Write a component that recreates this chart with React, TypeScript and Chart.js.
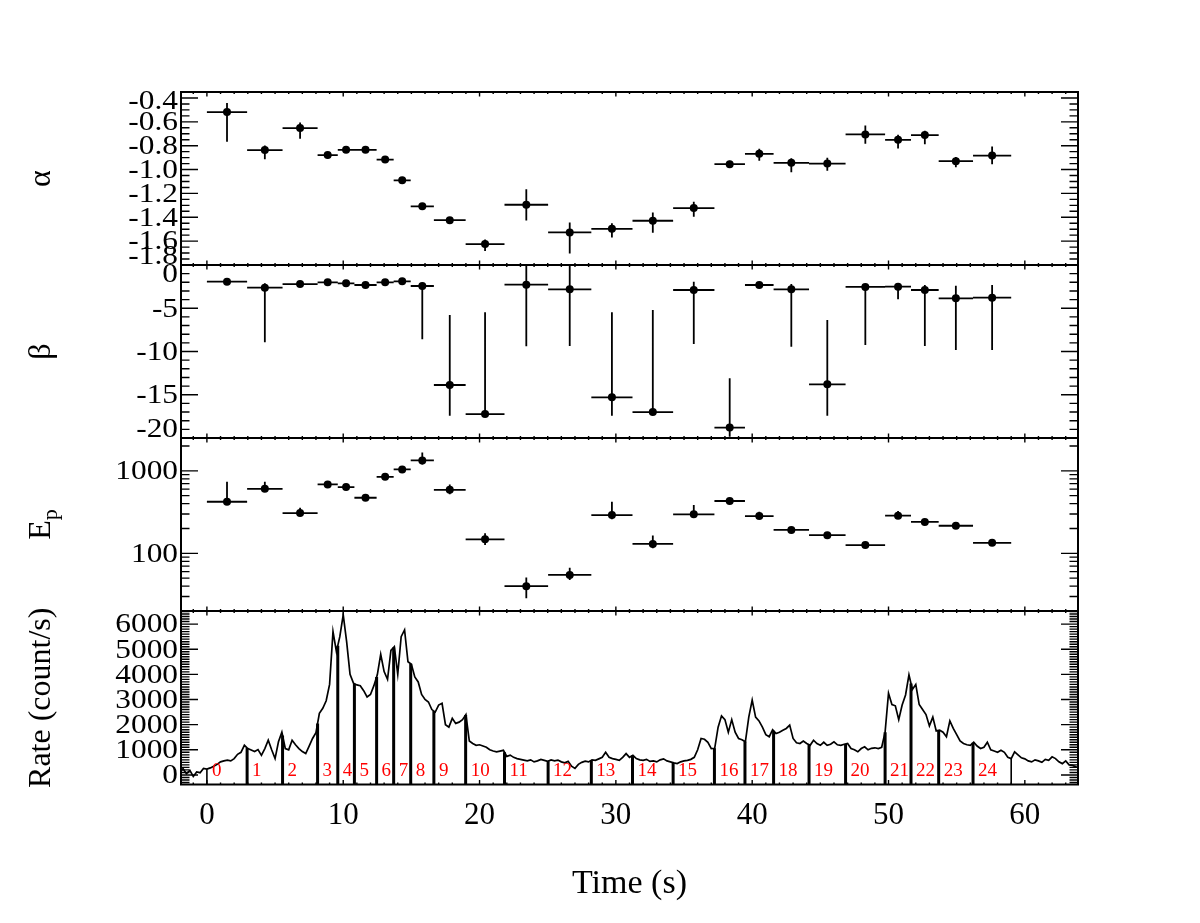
import { useEffect, useRef } from "react";
import { Chart, registerables } from "chart.js";

Chart.register(...registerables);

// bin edges (s) of the 25 time-resolved spectra
const binEdges = [
  0, 2.95, 5.55, 8.12, 9.6, 10.82, 12.45, 13.7, 14.95, 16.65, 18.98, 21.83, 25.03,
  28.2, 31.22, 34.2, 37.23, 39.47, 41.57, 44.17, 46.85, 49.75, 51.65, 53.68, 56.2, 59.0,
];
const binNames = [
  "0", "1", "2", "3", "4", "5", "6", "7", "8", "9", "10", "11", "12",
  "13", "14", "15", "16", "17", "18", "19", "20", "21", "22", "23", "24",
];

// low-energy index alpha
const alphaValues = [
  -0.518, -0.837, -0.652, -0.879, -0.835, -0.835, -0.916, -1.09, -1.308, -1.424, -1.625, -1.295, -1.527,
  -1.497, -1.429, -1.323, -0.955, -0.868, -0.944, -0.95, -0.706, -0.751, -0.711, -0.93, -0.883,
];
const alphaUpper = [
  -0.442, -0.799, -0.605, -0.857, -0.82, -0.82, -0.9, -1.075, -1.295, -1.412, -1.586, -1.165, -1.443,
  -1.451, -1.359, -1.27, -0.927, -0.826, -0.905, -0.902, -0.63, -0.709, -0.675, -0.894, -0.807,
];
const alphaLower = [
  -0.767, -0.913, -0.742, -0.908, -0.85, -0.85, -0.93, -1.105, -1.32, -1.436, -1.682, -1.426, -1.704,
  -1.569, -1.53, -1.396, -0.984, -0.927, -1.022, -1.009, -0.784, -0.824, -0.787, -0.98, -0.955,
];

// high-energy index beta
const betaValues = [
  -1.93, -2.62, -2.2, -2.0, -2.12, -2.31, -2.0, -1.89, -2.43, -13.87, -17.23, -2.27, -2.81,
  -15.3, -17.0, -2.89, -18.8, -2.31, -2.81, -13.8, -2.54, -2.5, -2.89, -3.85, -3.78,
];
const betaUpper = [
  -1.8, -2.12, -2.05, -1.85, -1.95, -2.15, -1.85, -1.75, -2.04, -5.78, -5.47, 0, 0,
  -5.47, -5.2, -1.93, -13.1, -2.15, -2.2, -6.36, -2.31, -2.2, -2.31, -2.39, -2.31,
];
const betaLower = [
  -2.05, -8.94, -2.35, -2.15, -2.3, -2.45, -2.15, -2.0, -8.59, -17.42, -17.23, -9.4, -9.36,
  -17.42, -17.0, -9.13, -19.85, -2.45, -9.44, -17.42, -9.25, -3.97, -9.36, -9.83, -9.83,
];

// peak energy Ep (keV)
const epValues = [
  422, 606, 308, 685, 635, 472, 846, 1040, 1336, 589, 148, 40, 54.8,
  291, 130, 297, 431, 283, 192, 166, 126, 286, 240, 216, 134,
];
const epUpper = [
  736, 736, 357, 750, 680, 500, 900, 1120, 1668, 685, 175, 51, 67,
  422, 164, 385, 450, 319, 200, 173, 131, 326, 250, 225, 139,
];
const epLower = [
  404, 557, 283, 635, 600, 450, 800, 980, 1195, 519, 126, 28.6, 47.6,
  258, 115, 270, 414, 265, 185, 160, 121, 265, 231, 208, 129,
];

// light curve, 0.25 s bins starting at -2 s
const rateStart = -2;
const rateStep = 0.25;
const rateValues = [
  100, 250, 50, 180, -60, 120, 90, 260,
  230, 280, 350, 420, 520, 560, 590, 560,
  650, 820, 900, 1180, 1050, 990, 930, 1010,
  780, 1050, 1380, 1000, 650, 1320, 1700, 1050,
  1000, 1380, 1200, 1050, 930, 850, 1150, 1450,
  1680, 2450, 2650, 2950, 3600, 5700, 4900, 5500,
  6370, 5300, 4000, 3650, 3580, 3550, 3350, 3100,
  3200, 3550, 3980, 4800, 4110, 3800, 4950, 5100,
  4000, 5500, 5770, 4500, 4400, 3900, 3700, 3200,
  3000, 2900, 2600, 2500, 2780, 2850, 2000, 1900,
  2250, 2050, 2100, 2200, 2400, 1350, 1250, 1180,
  1200, 1150, 1100, 1000, 950, 920, 950, 980,
  740, 790, 700, 650, 620, 590, 560, 600,
  520, 560, 620, 580, 540, 600, 560, 590,
  520, 480, 540, 350, 260, 420, 500, 550,
  520, 600, 580, 640, 700, 900, 700, 650,
  620, 580, 700, 850, 700, 780, 650, 600,
  580, 620, 540, 560, 520, 600, 640, 560,
  520, 480, 450, 520, 560, 580, 620, 700,
  1000, 1450, 1420, 1300, 1050, 1060, 1900, 2350,
  2200, 1700, 2200, 1700, 1450, 1400, 1320, 2300,
  2980, 2300, 2150, 1900, 1600, 1520, 1800, 1650,
  1700, 1780, 1850, 1980, 1450, 1280, 1250, 1350,
  1250, 1180, 1380, 1250, 1180, 1300, 1180, 1220,
  1320, 1200, 1180, 1220, 1250, 1050, 1000, 920,
  1050, 1120, 1000, 1060, 1080, 1050, 1100, 1700,
  3250, 2800, 2750, 2200, 2780, 3180, 3980, 3400,
  3600, 2800, 2600, 2400, 1950, 2300, 1750, 1780,
  1700, 1520, 2150, 1850, 1600, 1350, 1250, 1200,
  1180, 1300, 1150, 1050, 1100, 1300, 1000, 950,
  900, 980, 900, 700, 650, 920, 800, 680,
  640, 560, 520, 600, 560, 500, 620, 580,
  720, 650, 520, 450, 560, 400, 380, 320,
  300,
];

// tick labels
const timeTicks = [0, 10, 20, 30, 40, 50, 60];
const alphaTicks = [-1.8, -1.6, -1.4, -1.2, -1.0, -0.8, -0.6, -0.4];
const betaTicks = [-20, -15, -10, -5, 0];
const epTicks = [100, 1000];
const rateTicks = [0, 1000, 2000, 3000, 4000, 5000, 6000];

// axis ranges
const TIME_MIN = -1.9;
const TIME_MAX = 63.9;
const RATE_MIN = -380;

const FONT = "'Liberation Serif', 'Times New Roman', serif";

function steps(from: number, to: number, step: number) {
  const out: number[] = [];
  for (let i = Math.ceil(from / step - 1e-9); i <= Math.floor(to / step + 1e-9); i++) out.push(i * step);
  return out;
}

const timeMinor = steps(TIME_MIN, TIME_MAX, 1);
const epMinor = [30, 40, 50, 60, 70, 80, 90, 200, 300, 400, 500, 600, 700, 800, 900, 2000];

function rateAt(t: number) {
  const f = (t - rateStart) / rateStep;
  const i = Math.floor(f);
  const w = f - i;
  return rateValues[i] * (1 - w) + (rateValues[i + 1] ?? rateValues[i]) * w;
}

function errorBarSets(values: number[], lower: number[], upper: number[]) {
  const dots: any[] = [];
  const hLines: any[] = [];
  const vLines: any[] = [];
  values.forEach((v, i) => {
    const t0 = binEdges[i];
    const t1 = binEdges[i + 1];
    const tm = (t0 + t1) / 2;
    dots.push({ x: tm, y: v });
    hLines.push({ x: t0, y: v }, { x: t1, y: v }, { x: tm, y: null });
    vLines.push({ x: tm, y: lower[i] }, { x: tm, y: upper[i] }, { x: tm, y: null });
  });
  const line = { showLine: true, borderColor: "#000", borderWidth: 1.8, pointRadius: 0, spanGaps: false };
  return [
    { data: dots, showLine: false, pointRadius: 4, pointBackgroundColor: "#000", pointBorderWidth: 0 },
    { data: hLines, ...line },
    { data: vLines, ...line },
  ];
}

function rateSets() {
  const curve = rateValues.map((v, i) => ({ x: rateStart + i * rateStep, y: v }));
  const thick: any[] = [];
  const thin: any[] = [];
  binEdges.forEach((e, i) => {
    const target = i === 0 || i === binEdges.length - 1 ? thin : thick;
    target.push({ x: e, y: RATE_MIN }, { x: e, y: rateAt(e) }, { x: e, y: null });
  });
  const line = { showLine: true, borderColor: "#000", pointRadius: 0, spanGaps: false };
  return [
    { data: curve, ...line, borderWidth: 1.7 },
    { data: thick, ...line, borderWidth: 3 },
    { data: thin, ...line, borderWidth: 1.6 },
  ];
}

// IDL-like box: inward ticks on all sides, tick labels and titles
const panelFrame = {
  id: "panelFrame",
  afterDraw(chart: any, _args: any, o: any) {
    const { ctx, chartArea: a } = chart;
    const xs = chart.scales.x;
    const ys = chart.scales.y;
    ctx.save();
    ctx.strokeStyle = "#000";
    ctx.fillStyle = "#000";

    ctx.lineWidth = 1.4;
    ctx.beginPath();
    const xTick = (v: number, len: number) => {
      const px = xs.getPixelForValue(v);
      ctx.moveTo(px, a.top);
      ctx.lineTo(px, a.top + len);
      ctx.moveTo(px, a.bottom);
      ctx.lineTo(px, a.bottom - len);
    };
    const yTick = (v: number, len: number) => {
      const py = ys.getPixelForValue(v);
      ctx.moveTo(a.left, py);
      ctx.lineTo(a.left + len, py);
      ctx.moveTo(a.right, py);
      ctx.lineTo(a.right - len, py);
    };
    timeMinor.forEach((v) => xTick(v, 2));
    timeTicks.forEach((v) => xTick(v, 4.5));
    o.yMinor.forEach((v: number) => yTick(v, 8.5));
    o.yMajor.forEach((v: number) => yTick(v, 17));
    ctx.stroke();

    ctx.lineWidth = 2;
    ctx.strokeRect(a.left, a.top, a.right - a.left, a.bottom - a.top);

    // y tick labels (kept inside the panel height)
    ctx.font = `28px ${FONT}`;
    ctx.textAlign = "right";
    ctx.textBaseline = "middle";
    o.yMajor.forEach((v: number, i: number) => {
      const py = Math.min(Math.max(ys.getPixelForValue(v), a.top + 9), a.bottom - 9);
      ctx.save();
      ctx.translate(a.left - 3, py + 1);
      ctx.scale(1.12, 1);
      ctx.fillText(o.yLabels[i], 0, 0);
      ctx.restore();
    });

    // rotated y title, with optional subscript
    ctx.save();
    ctx.translate(42, (a.top + a.bottom) / 2);
    ctx.rotate(-Math.PI / 2);
    ctx.textAlign = "left";
    ctx.textBaseline = "middle";
    ctx.font = `32px ${FONT}`;
    const wMain = ctx.measureText(o.title).width;
    let wSub = 0;
    if (o.titleSub) {
      ctx.font = `22px ${FONT}`;
      wSub = ctx.measureText(o.titleSub).width;
    }
    const x0 = -(wMain + wSub) / 2;
    ctx.font = `32px ${FONT}`;
    ctx.fillText(o.title, x0, 0);
    if (o.titleSub) {
      ctx.font = `22px ${FONT}`;
      ctx.fillText(o.titleSub, x0 + wMain, 9);
    }
    ctx.restore();

    if (o.binLabels) {
      ctx.fillStyle = "#ff0000";
      ctx.font = `19px ${FONT}`;
      ctx.textAlign = "left";
      ctx.textBaseline = "middle";
      binNames.forEach((name, i) => {
        ctx.fillText(name, xs.getPixelForValue(binEdges[i]) + 5, a.bottom - 13);
      });
      ctx.fillStyle = "#000";
    }

    if (o.xLabels) {
      ctx.font = `31px ${FONT}`;
      ctx.textAlign = "center";
      ctx.textBaseline = "middle";
      timeTicks.forEach((v) => ctx.fillText(String(v), xs.getPixelForValue(v), a.bottom + 31));
      ctx.font = `34px ${FONT}`;
      ctx.fillText("Time (s)", (a.left + a.right) / 2, a.bottom + 100);
    }
    ctx.restore();
  },
};

function panelConfig(top: number, bottom: number, yScale: any, datasets: any[], frame: any): any {
  return {
    type: "scatter",
    data: { datasets },
    options: {
      responsive: false,
      animation: false,
      events: [],
      layout: { padding: { left: 181, right: 122, top, bottom: 923 - bottom } },
      scales: {
        x: { type: "linear", min: TIME_MIN, max: TIME_MAX, display: false },
        y: { ...yScale, display: false },
      },
      plugins: {
        legend: { display: false },
        tooltip: { enabled: false },
        panelFrame: frame,
      },
    },
    plugins: [panelFrame],
  };
}

const panels = [
  () =>
    panelConfig(92, 265, { type: "linear", min: -1.8, max: -0.35 }, errorBarSets(alphaValues, alphaLower, alphaUpper), {
      yMajor: alphaTicks,
      yMinor: steps(-1.8, -0.35, 0.05),
      yLabels: alphaTicks.map((v) => v.toFixed(1)),
      title: "α",
    }),
  () =>
    panelConfig(265, 438, { type: "linear", min: -20, max: 0 }, errorBarSets(betaValues, betaLower, betaUpper), {
      yMajor: betaTicks,
      yMinor: steps(-20, 0, 1),
      yLabels: betaTicks.map((v) => String(v)),
      title: "β",
    }),
  () =>
    panelConfig(438, 611, { type: "logarithmic", min: 20, max: 2500 }, errorBarSets(epValues, epLower, epUpper), {
      yMajor: epTicks,
      yMinor: epMinor,
      yLabels: epTicks.map((v) => String(v)),
      title: "E",
      titleSub: "p",
    }),
  () =>
    panelConfig(611, 784.5, { type: "linear", min: RATE_MIN, max: 6520 }, rateSets(), {
      yMajor: rateTicks,
      yMinor: steps(RATE_MIN, 6520, 100),
      yLabels: rateTicks.map((v) => String(v)),
      title: "Rate (count/s)",
      binLabels: true,
      xLabels: true,
    }),
];

export default function App() {
  const canvasRefs = useRef<(HTMLCanvasElement | null)[]>([]);

  useEffect(() => {
    const charts = panels.map((make, i) => new Chart(canvasRefs.current[i] as HTMLCanvasElement, make()));
    return () => {
      charts.forEach((c) => c.destroy());
    };
  }, []);

  return (
    <div style={{ position: "absolute", left: 0, top: 0, width: 1200, height: 923, background: "#fff" }}>
      {panels.map((_, i) => (
        <canvas
          key={i}
          ref={(el) => {
            canvasRefs.current[i] = el;
          }}
          width={1200}
          height={923}
          style={{ position: "absolute", left: 0, top: 0 }}
        />
      ))}
    </div>
  );
}
